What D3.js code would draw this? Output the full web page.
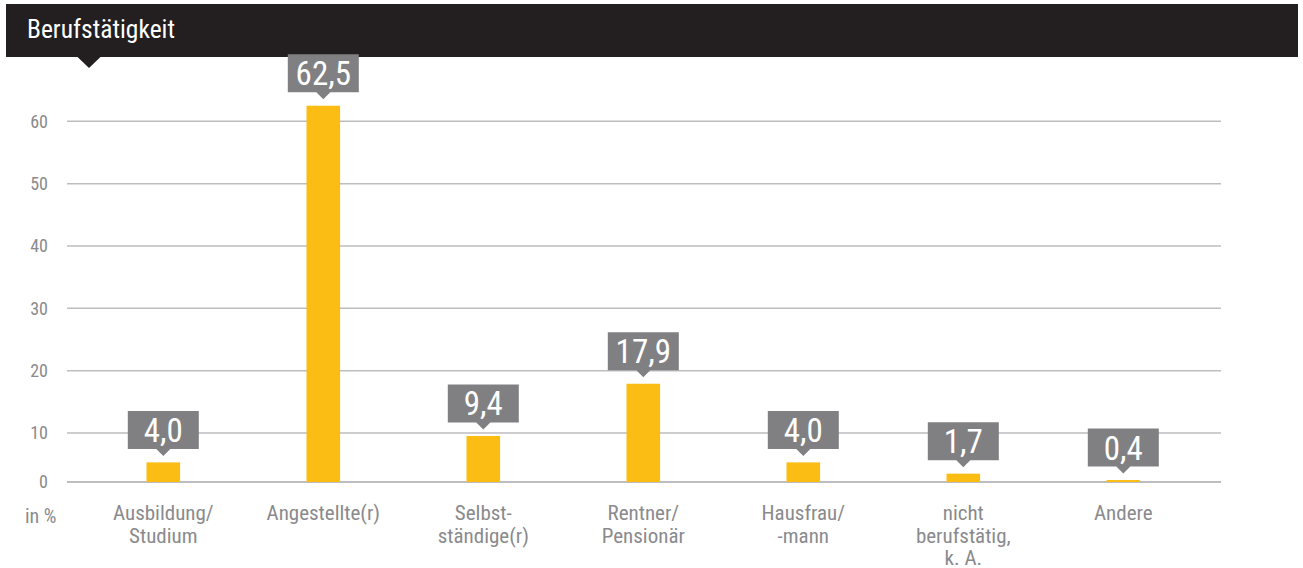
<!DOCTYPE html>
<html><head><meta charset="utf-8">
<script src="https://cdn.jsdelivr.net/npm/d3@7"></script>
<style>
html,body{margin:0;padding:0;background:#fff;}
svg{display:block;}
text{font-family:"Roboto Condensed","Roboto","Liberation Sans Narrow",sans-serif;}
</style></head>
<body>
<script>
const title = "Berufstätigkeit";
const categories = ["Ausbildung/\nStudium","Angestellte(r)","Selbst-\nständige(r)","Rentner/\nPensionär","Hausfrau/\n-mann","nicht\nberufstätig,\nk. A.","Andere"];
const values = [4.0, 62.5, 9.4, 17.9, 4.0, 1.7, 0.4];
const valueLabels = ["4,0","62,5","9,4","17,9","4,0","1,7","0,4"];
const yTicks = [0,10,20,30,40,50,60];
const unitLabel = "in %";

const W = 1303, H = 568;
const svg = d3.select("body").append("svg").attr("width", W).attr("height", H);

// header
svg.append("rect").attr("x",6).attr("y",4).attr("width",1292).attr("height",53).attr("fill","#231f20");
svg.append("path").attr("d","M77,56.5 L101,56.5 L89,68 Z").attr("fill","#231f20");
svg.append("text").attr("x",27).attr("y",38).attr("fill","#fff").attr("font-size",25.5).text(title);

const x = d3.scaleBand().domain(categories).range([83.3,1203.3]).paddingInner(0.79).paddingOuter(0.395);
const y = d3.scaleLinear().domain([0,10,60]).range([482,433,121.3]);

// grid
const grid = svg.append("g");
grid.selectAll("line").data(yTicks).join("line")
  .attr("x1",67).attr("x2",1221)
  .attr("y1",d=>y(d)).attr("y2",d=>y(d))
  .attr("stroke","#bdbdbf").attr("stroke-width",d=>d===0?2:1.5);

// y axis labels
const yAxis = d3.axisLeft(y).tickValues(yTicks).tickSize(0).tickPadding(0).tickFormat(d3.format("d"));
const gy = svg.append("g").attr("transform","translate(48,0)").call(yAxis);
gy.select(".domain").remove();
gy.selectAll("text").attr("fill","#8a8a8d").attr("font-size",18).attr("font-family",null);

svg.append("text").attr("x",25).attr("y",523).attr("fill","#8a8a8d").attr("font-size",20).text(unitLabel);

// bars
svg.append("g").selectAll("rect").data(values).join("rect")
  .attr("x",(d,i)=>x(categories[i]))
  .attr("width",x.bandwidth())
  .attr("y",d=>y(d))
  .attr("height",d=>y(0)-y(d))
  .attr("fill","#fbbd13");

// value callouts
const bw = 71, bh = 38;
const cg = svg.append("g").selectAll("g").data(values).join("g")
  .attr("transform",(d,i)=>`translate(${x(categories[i])+x.bandwidth()/2},${y(d)-6.5})`);
cg.append("path")
  .attr("d",`M${-bw/2},${-7-bh} h${bw} v${bh} h${-bw/2+7} l-7,7 l-7,-7 h${-bw/2+7} Z`)
  .attr("fill","#808083");
cg.append("text").attr("text-anchor","middle").attr("y",-7-bh/2+12)
  .attr("fill","#fff").attr("font-size",33).text((d,i)=>valueLabels[i]);

// category labels
const gx = svg.append("g").attr("transform",`translate(0,${y(0)})`)
  .call(d3.axisBottom(x).tickSize(0).tickFormat(""));
gx.select(".domain").remove();
gx.selectAll(".tick").each(function(d){
  const t = d3.select(this).append("text").attr("text-anchor","middle")
    .attr("fill","#8a8a8d").attr("font-size",21).attr("y",38);
  d.split("\n").forEach((ln,k)=>t.append("tspan").attr("x",0).attr("dy",k?22.5:0).text(ln));
});
</script>
</body></html>
